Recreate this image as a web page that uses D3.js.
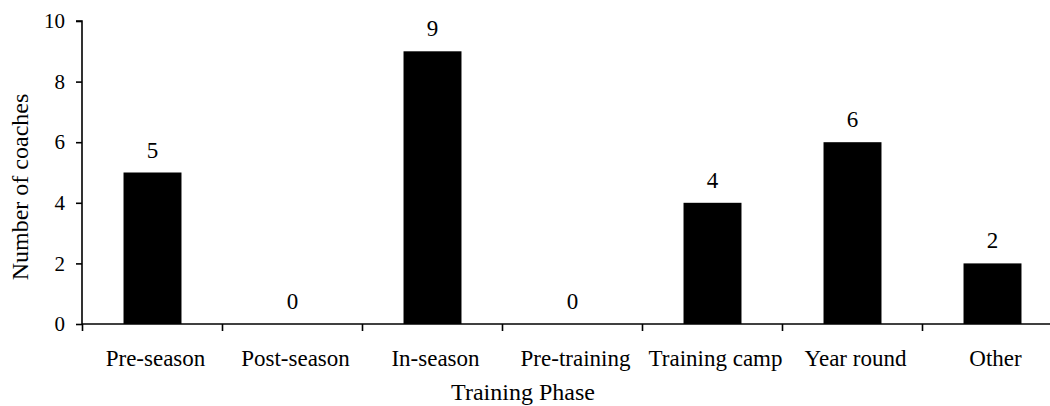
<!DOCTYPE html>
<html>
<head>
<meta charset="utf-8">
<script src="https://cdn.jsdelivr.net/npm/d3@7/dist/d3.min.js"></script>
<style>
  html, body { margin: 0; padding: 0; background: #fff; }
  svg { display: block; font-family: "Liberation Serif", "Times New Roman", serif; }
</style>
</head>
<body>
<svg id="chart" width="1050" height="406"></svg>
<script>
// Training phases and number of coaches per phase
const phases = ["Pre-season", "Post-season", "In-season", "Pre-training", "Training camp", "Year round", "Other"];
const coaches = [5, 0, 9, 0, 4, 6, 2];
const yTicks = [0, 2, 4, 6, 8, 10];

const svg = d3.select("#chart");

const x = d3.scaleBand()
  .domain(phases)
  .range([82.5, 1062.5])
  .paddingInner(0.586)
  .paddingOuter(0.293)
  .align(0.5);

const y = d3.scaleLinear().domain([0, 10]).range([324, 21]);

const step = x.step();
const gap = step - x.bandwidth();

// Bars
svg.append("g")
  .selectAll("rect")
  .data(phases)
  .join("rect")
  .attr("x", d => x(d))
  .attr("width", x.bandwidth())
  .attr("y", (d, i) => y(coaches[i]))
  .attr("height", (d, i) => y(0) - y(coaches[i]))
  .attr("fill", "#000");

// Value labels above bars
svg.append("g")
  .selectAll("text")
  .data(phases)
  .join("text")
  .attr("x", d => x(d) + x.bandwidth() / 2)
  .attr("y", (d, i) => y(coaches[i]) - 15)
  .attr("text-anchor", "middle")
  .attr("font-size", 23)
  .attr("fill", "#000")
  .text((d, i) => coaches[i]);

// Y axis
const yAxis = svg.append("g")
  .attr("transform", `translate(${82},0)`)
  .call(d3.axisLeft(y).tickValues(yTicks).tickSize(6).tickPadding(11).tickFormat(d3.format("d")));
yAxis.select(".domain").attr("stroke", "#000").attr("stroke-width", 1.6).attr("d", `M-6,${y(10)}H0V${y(0)}`);
yAxis.selectAll(".tick line").attr("stroke", "#000").attr("stroke-width", 1.6);
yAxis.selectAll(".tick text")
  .attr("font-size", 21)
  .attr("font-family", "Liberation Serif, Times New Roman, serif")
  .attr("fill", "#000");

// X axis: labels at band centres, ticks at band boundaries
const xAxis = svg.append("g")
  .attr("transform", `translate(0,${y(0)})`)
  .call(d3.axisBottom(x).tickSize(0).tickPadding(26));
xAxis.select(".domain").attr("stroke", "#000").attr("stroke-width", 1.6).attr("d", `M82,0H1050`);
xAxis.selectAll(".tick text")
  .attr("font-size", 23)
  .attr("dx", 3)
  .attr("font-family", "Liberation Serif, Times New Roman, serif")
  .attr("fill", "#000");

const boundaries = phases.map(d => x(d) - gap / 2);
xAxis.append("g")
  .selectAll("line")
  .data(boundaries)
  .join("line")
  .attr("x1", d => d)
  .attr("x2", d => d)
  .attr("y1", 0)
  .attr("y2", 7)
  .attr("stroke", "#000")
  .attr("stroke-width", 1.6);

// Axis titles
svg.append("text")
  .attr("x", 523)
  .attr("y", 400)
  .attr("text-anchor", "middle")
  .attr("font-size", 24)
  .attr("fill", "#000")
  .text("Training Phase");

svg.append("text")
  .attr("transform", "translate(28,187) rotate(-90)")
  .attr("text-anchor", "middle")
  .attr("font-size", 24)
  .attr("fill", "#000")
  .text("Number of coaches");
</script>
</body>
</html>
